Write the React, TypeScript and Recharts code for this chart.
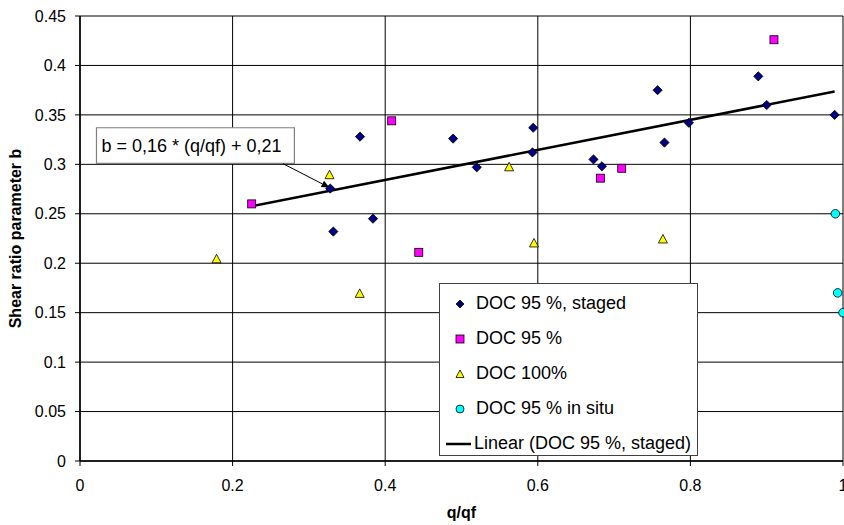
import { ScatterChart, Scatter, XAxis, YAxis, CartesianGrid, ReferenceArea, ReferenceLine, Legend } from "recharts";

// DOC 95 %, staged
const stagedQ = [0.328, 0.332, 0.367, 0.384, 0.489, 0.52, 0.594, 0.593, 0.673, 0.684, 0.757, 0.766, 0.798, 0.889, 0.9, 0.989];
const stagedB = [0.2755, 0.232, 0.328, 0.245, 0.326, 0.297, 0.337, 0.312, 0.305, 0.298, 0.375, 0.322, 0.342, 0.389, 0.36, 0.35];

// DOC 95 %
const doc95Q = [0.225, 0.4085, 0.444, 0.682, 0.71, 0.9095];
const doc95B = [0.26, 0.344, 0.211, 0.286, 0.296, 0.426];

// DOC 100%
const doc100Q = [0.179, 0.327, 0.3666, 0.5624, 0.595, 0.764];
const doc100B = [0.204, 0.289, 0.169, 0.297, 0.22, 0.224];

// DOC 95 % in situ
const inSituQ = [0.99, 0.993, 1.0];
const inSituB = [0.25, 0.17, 0.15];

// linear trend (DOC 95 %, staged)
const trendQ = [0.225, 0.989];
const trendB = [0.2576, 0.3737];

const xTicks = [0, 0.2, 0.4, 0.6, 0.8, 1];
const yTicks = [0, 0.05, 0.1, 0.15, 0.2, 0.25, 0.3, 0.35, 0.4, 0.45];

const seriesNames = ["DOC 95 %, staged", "DOC 95 %", "DOC 100%", "DOC 95 % in situ", "Linear (DOC 95 %, staged)"];
const trendLabel = "b = 0,16 * (q/qf) + 0,21";

const toPoints = (qs: number[], bs: number[]) => qs.map((q, i) => ({ q, b: bs[i] }));

const FONT = '"Liberation Sans", Arial, sans-serif';

const Diamond = (p: any) => {
  const { cx, cy } = p;
  const r = 4.6;
  return <polygon points={`${cx},${cy - r} ${cx + r},${cy} ${cx},${cy + r} ${cx - r},${cy}`} fill="#000080" stroke="#000" strokeWidth={0.8} />;
};
const Square = (p: any) => {
  const { cx, cy } = p;
  return <rect x={cx - 4} y={cy - 4} width={8} height={8} fill="#ff00ff" stroke="#000" strokeWidth={0.8} />;
};
const Triangle = (p: any) => {
  const { cx, cy } = p;
  return <polygon points={`${cx},${cy - 5} ${cx + 4.5},${cy + 3.5} ${cx - 4.5},${cy + 3.5}`} fill="#ffff00" stroke="#000" strokeWidth={0.8} />;
};
const Circle = (p: any) => {
  const { cx, cy } = p;
  return <circle cx={cx} cy={cy} r={4.3} fill="#00ffff" stroke="#000" strokeWidth={0.8} />;
};
const NoDot = () => <g />;

const Arrow = (p: any) => {
  const { x1, y1, x2, y2 } = p;
  const a = Math.atan2(y2 - y1, x2 - x1);
  const L = 8;
  const W = 3.5;
  const bx = x2 - L * Math.cos(a);
  const by = y2 - L * Math.sin(a);
  const nx = -Math.sin(a) * W;
  const ny = Math.cos(a) * W;
  return (
    <g>
      <line x1={x1} y1={y1} x2={bx} y2={by} stroke="#000" strokeWidth={1} />
      <polygon points={`${x2},${y2} ${bx + nx},${by + ny} ${bx - nx},${by - ny}`} fill="#000" />
    </g>
  );
};

const legendIcons = [
  <polygon points="7,3 11,7 7,11 3,7" fill="#000080" stroke="#000" strokeWidth={0.8} />,
  <rect x={3} y={3} width={8} height={8} fill="#ff00ff" stroke="#000" strokeWidth={0.8} />,
  <polygon points="7,3 11,10.5 3,10.5" fill="#ffff00" stroke="#000" strokeWidth={0.8} />,
  <circle cx={7} cy={7} r={4} fill="#00ffff" stroke="#000" strokeWidth={0.8} />,
];

const LegendBox = () => (
  <div
    style={{
      border: "1px solid #404040",
      background: "#fff",
      width: 259,
      height: 173,
      boxSizing: "border-box",
      paddingTop: 2,
      fontFamily: FONT,
      fontSize: 18,
      color: "#000",
    }}
  >
    {seriesNames.map((name, i) => (
      <div key={name} style={{ display: "flex", alignItems: "center", height: 35, whiteSpace: "nowrap" }}>
        {i < 4 ? (
          <svg width={14} height={14} style={{ marginLeft: 13, marginRight: 9 }}>
            {legendIcons[i]}
          </svg>
        ) : (
          <svg width={25} height={14} style={{ marginLeft: 6, marginRight: 3 }}>
            <line x1={0} y1={7} x2={25} y2={7} stroke="#000" strokeWidth={2.5} />
          </svg>
        )}
        <span>{name}</span>
      </div>
    ))}
  </div>
);

export default function App() {
  return (
    <div style={{ position: "absolute", left: 0, top: 0, background: "#fff" }}>
      <ScatterChart width={844} height={525} margin={{ top: 16, right: 1, left: 0, bottom: 0 }} style={{ fontFamily: FONT }}>
        <CartesianGrid stroke="#000" strokeWidth={1} />
        <XAxis
          type="number"
          dataKey="q"
          domain={[0, 1]}
          ticks={xTicks}
          interval={0}
          height={64}
          axisLine={{ stroke: "#000", strokeWidth: 1.5 }}
          tickLine={{ stroke: "#000" }}
          tickSize={5}
          tickMargin={14}
          tick={{ fontSize: 16, fill: "#000" }}
          label={{ value: "q/qf", position: "insideBottom", offset: 7, fontSize: 16, fontWeight: "bold", fill: "#000" }}
        />
        <YAxis
          type="number"
          dataKey="b"
          domain={[0, 0.45]}
          ticks={yTicks}
          interval={0}
          width={80}
          axisLine={{ stroke: "#000", strokeWidth: 1.5 }}
          tickLine={{ stroke: "#000" }}
          tickSize={5}
          tickMargin={9}
          tick={{ fontSize: 16, fill: "#000" }}
          label={{
            value: "Shear ratio parameter b",
            angle: -90,
            position: "insideLeft",
            offset: 15,
            fontSize: 16,
            fontWeight: "bold",
            fill: "#000",
            style: { textAnchor: "middle" },
          }}
        />
        <ReferenceArea
          x1={0.0216}
          x2={0.281}
          y1={0.301}
          y2={0.337}
          fill="#fff"
          fillOpacity={1}
          stroke="#808080"
          strokeWidth={1.2}
          label={{ value: trendLabel, position: "insideLeft", offset: 5, fontSize: 18, fill: "#000" }}
        />
        <ReferenceLine
          segment={[
            { x: 0.266, y: 0.3007 },
            { x: 0.327, y: 0.2765 },
          ]}
          shape={Arrow}
        />
        <Scatter name={seriesNames[4]} data={toPoints(trendQ, trendB)} line={{ stroke: "#000", strokeWidth: 2.5 }} shape={NoDot} isAnimationActive={false} />
        <Scatter name={seriesNames[0]} data={toPoints(stagedQ, stagedB)} shape={Diamond} isAnimationActive={false} />
        <Scatter name={seriesNames[1]} data={toPoints(doc95Q, doc95B)} shape={Square} isAnimationActive={false} />
        <Scatter name={seriesNames[2]} data={toPoints(doc100Q, doc100B)} shape={Triangle} isAnimationActive={false} />
        <Scatter name={seriesNames[3]} data={toPoints(inSituQ, inSituB)} shape={Circle} isAnimationActive={false} />
        <Legend
          layout="vertical"
          align="center"
          verticalAlign="middle"
          content={() => <LegendBox />}
          wrapperStyle={{ left: 439, top: 283, width: 261, height: 175 }}
        />
      </ScatterChart>
    </div>
  );
}
